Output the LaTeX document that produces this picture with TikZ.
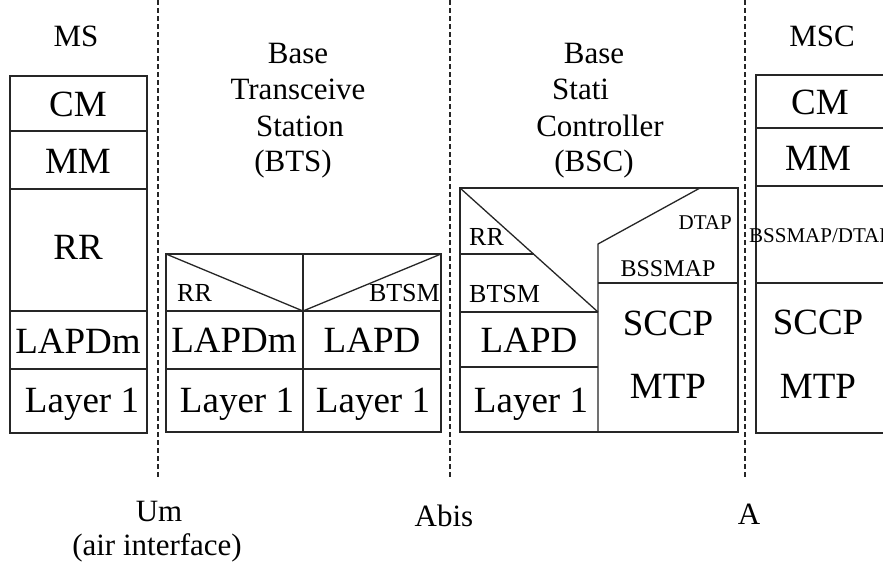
\documentclass[tikz,border=0pt]{standalone}
\usepackage{fontspec}
\setmainfont{Liberation Serif}
\begin{document}
\begin{tikzpicture}[x=1pt,y=-1pt,
  box/.style={draw=black!85, line width=1.3pt},
  sep/.style={draw=black!85, dash pattern=on 5pt off 3pt, line width=1.5pt},
  big/.style={font=\fontsize{37}{37}\selectfont, inner sep=0pt, text height=24pt, text depth=0pt},
  hdr/.style={font=\fontsize{31}{31}\selectfont, inner sep=0pt, text height=20pt, text depth=0pt},
  sml/.style={font=\fontsize{26}{26}\selectfont, inner sep=0pt, text height=17pt, text depth=0pt},
  mid/.style={font=\fontsize{24}{24}\selectfont, inner sep=0pt, text height=16pt, text depth=0pt},
  tiny/.style={font=\fontsize{21}{21}\selectfont, inner sep=0pt, text height=14pt, text depth=0pt}]
\useasboundingbox (0,0) rectangle (883,563);
\clip (0,0) rectangle (883,563);
\fill[white] (0,0) rectangle (883,563);

% separators
\coordinate (s1t) at (158,0); \coordinate (s1b) at (158,477);
\coordinate (s2t) at (450,0); \coordinate (s2b) at (450,477);
\coordinate (s3t) at (745,0); \coordinate (s3b) at (745,477);
\draw[sep] (s1t) -- (s1b);
\draw[sep] (s2t) -- (s2b);
\draw[sep] (s3t) -- (s3b);

% MS
\node[hdr] (hms) at (76,36) {MS};
\draw[box] (10,76) rectangle (147,433);
\foreach \yy in {131,189,311,369} \draw[box] (10,\yy) -- (147,\yy);
\node[big] (mscm) at (78,104) {CM};
\node[big] (msmm) at (78,161) {MM};
\node[big] (msrr) at (78,247) {RR};
\node[big] (mslapdm) at (78,341) {LAPDm};
\node[big] (msl1) at (82,400) {Layer 1};

% BTS
\node[hdr] (hbts1) at (298,53) {Base};
\node[hdr] (hbts2) at (298,89) {Transceive};
\node[hdr] (hbts3) at (300,126) {Station};
\node[hdr] (hbts4) at (293,161) {(BTS)};
\draw[box] (166,254) rectangle (441,432);
\draw[box] (166,311) -- (441,311);
\draw[box] (166,369) -- (441,369);
\draw[box, line width=1.9pt] (303,254) -- (303,432);
\draw[box] (166,254) -- (303,311) -- (441,254);
\node[sml, anchor=west] (btsrr) at (177,293) {RR};
\node[sml, anchor=east] (btsbtsm) at (440,293) {BTSM};
\node[big] (btslapdm) at (234,340) {LAPDm};
\node[big] (btslapd) at (372,340) {LAPD};
\node[big] (btsl1a) at (237,400) {Layer 1};
\node[big] (btsl1b) at (373,400) {Layer 1};

% BSC
\node[hdr] (hbsc1) at (594,53) {Base};
\node[hdr, anchor=west] (hbsc2) at (552,89) {Stati};
\node[hdr] (hbsc3) at (600,126) {Controller};
\node[hdr] (hbsc4) at (594,161) {(BSC)};
\draw[box] (460,188) rectangle (738,432);
\draw[box] (460,188) -- (598,312);
\draw[box] (460,254) -- (533.5,254);
\draw[box] (460,312) -- (598,312);
\draw[box] (460,367) -- (598,367);
\draw[box] (598,432) -- (598,244) -- (700,188);
\draw[box] (598,283) -- (738,283);
\node[sml, anchor=west] (bscrr) at (469,237) {RR};
\node[sml, anchor=west] (bscbtsm) at (469,294) {BTSM};
\node[big] (bsclapd) at (529,340) {LAPD};
\node[big] (bscl1) at (531,400) {Layer 1};
\node[tiny, anchor=east] (bscdtap) at (732,222) {DTAP};
\node[mid] (bscbssmap) at (668,268) {BSSMAP};
\node[big] (bscsccp) at (668,323) {SCCP};
\node[big] (bscmtp) at (668,386) {MTP};

% MSC
\node[hdr] (hmsc) at (822,36) {MSC};
\draw[box] (900,75) -- (756,75) -- (756,433) -- (900,433);
\foreach \yy in {128,186,283} \draw[box] (756,\yy) -- (900,\yy);
\node[big] (msccm) at (820,102) {CM};
\node[big] (mscmm) at (818,158) {MM};
\node[tiny, anchor=west] (mscbss) at (749,235) {BSSMAP/DTAP};
\node[big] (mscsccp) at (818,322) {SCCP};
\node[big] (mscmtp) at (818,386) {MTP};

% interfaces
\node[hdr] (ium) at (159,511) {Um};
\node[hdr] (iair) at (157,545) {(air interface)};
\node[hdr] (iabis) at (444,516) {Abis};
\node[hdr] (ia) at (749,514) {A};
\end{tikzpicture}
\end{document}
